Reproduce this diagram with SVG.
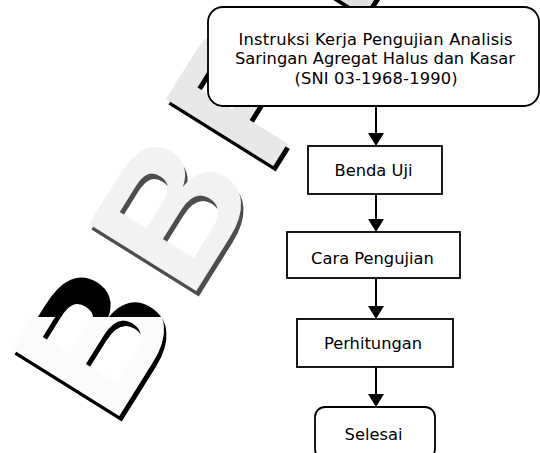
<svg xmlns="http://www.w3.org/2000/svg" width="540" height="453" viewBox="0 0 540 453">
<style>
.wm{font-family:"Liberation Sans",Arial,sans-serif;font-weight:bold;font-size:184px}
.node rect{fill:#ffffff;stroke:#000000;stroke-width:1.8}
.node text{font-family:"DejaVu Sans",Verdana,sans-serif;font-size:16.3px;fill:#000000;text-anchor:middle}
.conn path{fill:none;stroke:#000000;stroke-width:2}
</style>
<defs>
<marker id="arr" viewBox="0 -8 13 16" refX="0" refY="0" markerWidth="13" markerHeight="16" markerUnits="userSpaceOnUse" orient="auto">
<path d="M0,-8 L13,0 L0,8 Z" fill="#000000"/>
</marker>
<clipPath id="clipB1"><rect x="0" y="317" width="540" height="136"/></clipPath>
<clipPath id="clipP3"><rect x="0" y="39" width="540" height="414"/></clipPath>
</defs>
<g id="watermark">
<g transform="translate(112.8,426.5) rotate(-58)">
<text class="wm" x="-3.5" y="5" fill="#000000">B</text>
</g>
<g clip-path="url(#clipB1)">
<g transform="translate(112.8,426.5) rotate(-58)">
<text class="wm" x="0" y="0" fill="#fbfbfb">B</text>
</g>
</g>
<g transform="translate(189.8,301.5) rotate(-58)">
<text class="wm" x="-3.5" y="5" fill="#4d4d4d">B</text>
<text class="wm" x="0" y="0" fill="#f2f2f2">B</text>
</g>
<g clip-path="url(#clipP3)">
<g transform="translate(266.8,176.5) rotate(-58)">
<text class="wm" x="-3.5" y="5" fill="#000000">P</text>
<text class="wm" x="0" y="0" fill="#e8e8e8">P</text>
</g>
</g>
<g transform="translate(341.7,51.8) rotate(-58)">
<text class="wm" x="-3.5" y="5" fill="#000000">T</text>
<text class="wm" x="0" y="0" fill="#dedede">T</text>
</g>
</g>
<g id="connectors" class="conn">
<path d="M376,106 L376,133" marker-end="url(#arr)"/>
<path d="M376,194 L376,219" marker-end="url(#arr)"/>
<path d="M376,278 L376,306" marker-end="url(#arr)"/>
<path d="M376,367 L376,394" marker-end="url(#arr)"/>
</g>
<g id="node-instruksi" class="node">
<rect x="208" y="7" width="331" height="99" rx="15" ry="15"/>
<text x="375.5" y="44.5" textLength="274">Instruksi Kerja Pengujian Analisis</text>
<text x="375" y="64" textLength="280">Saringan Agregat Halus dan Kasar</text>
<text x="376" y="83.5" textLength="163">(SNI 03-1968-1990)</text>
</g>
<g id="node-benda" class="node">
<rect x="308" y="146" width="134" height="48"/>
<text x="373.5" y="176">Benda Uji</text>
</g>
<g id="node-cara" class="node">
<rect x="287" y="232" width="173" height="46"/>
<text x="372.5" y="263.5">Cara Pengujian</text>
</g>
<g id="node-perhitungan" class="node">
<rect x="297" y="319" width="156" height="48"/>
<text x="373" y="349">Perhitungan</text>
</g>
<g id="node-selesai" class="node">
<rect x="315" y="407" width="120" height="52" rx="10" ry="10"/>
<text x="373.5" y="440">Selesai</text>
</g>
</svg>
